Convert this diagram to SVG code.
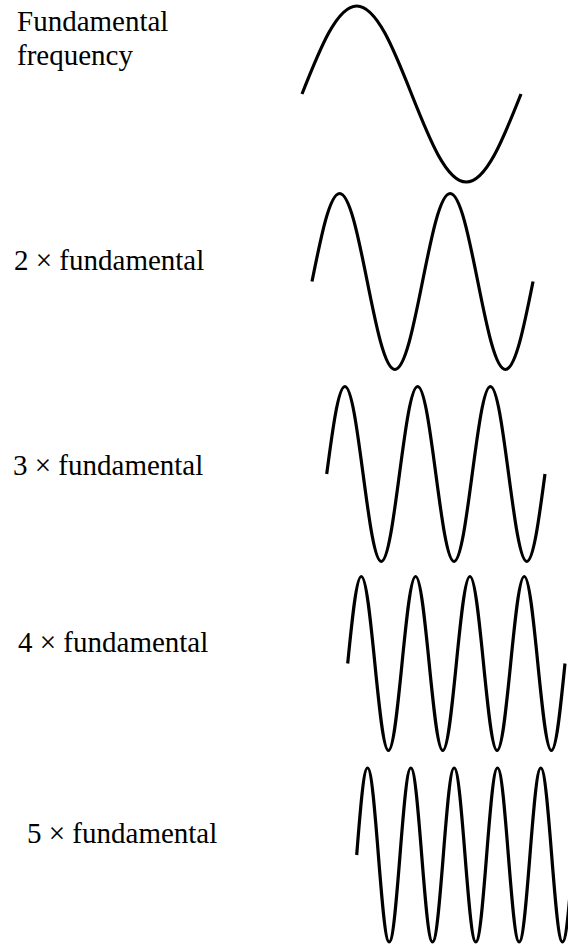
<svg xmlns="http://www.w3.org/2000/svg" width="568" height="948" viewBox="0 0 568 948">
<style>
.lbl{font-family:"Liberation Serif","Times New Roman",serif;font-size:29px;fill:#000}
.wave{fill:none;stroke:#000;stroke-width:3.2;stroke-linecap:butt;stroke-linejoin:round}
</style>
<rect width="568" height="948" fill="#fff"/>
<g id="row1">
<text class="lbl" x="17" y="31">Fundamental</text>
<text class="lbl" x="17" y="65">frequency</text>
<path class="wave" d="M302,94 c17.85,-45.08 34.94,-88 54.75,-88 s36.90,42.92 54.75,88 s34.94,88 54.75,88 s36.90,-42.92 54.75,-88"/>
</g>
<g id="row2">
<text class="lbl" x="14" y="270">2 &#215; fundamental</text>
<path class="wave" d="M312,281.5 c9.01,-45.08 17.63,-88 27.63,-88 s18.62,42.92 27.63,88 s17.63,88 27.63,88 s18.62,-42.92 27.63,-88 s17.63,-88 27.63,-88 s18.62,42.92 27.63,88 s17.63,88 27.63,88 s18.62,-42.92 27.63,-88"/>
</g>
<g id="row3">
<text class="lbl" x="13" y="475">3 &#215; fundamental</text>
<path class="wave" d="M326.7,474 c5.93,-44.83 11.61,-87.5 18.19,-87.5 s12.26,42.67 18.19,87.5 s11.61,87.5 18.19,87.5 s12.26,-42.67 18.19,-87.5 s11.61,-87.5 18.19,-87.5 s12.26,42.67 18.19,87.5 s11.61,87.5 18.19,87.5 s12.26,-42.67 18.19,-87.5 s11.61,-87.5 18.19,-87.5 s12.26,42.67 18.19,87.5 s11.61,87.5 18.19,87.5 s12.26,-42.67 18.19,-87.5"/>
</g>
<g id="row4">
<text class="lbl" x="18" y="652">4 &#215; fundamental</text>
<path class="wave" d="M347.7,663.5 c4.43,-44.57 8.67,-87 13.58,-87 s9.15,42.43 13.58,87 s8.67,87 13.58,87 s9.15,-42.43 13.58,-87 s8.67,-87 13.58,-87 s9.15,42.43 13.58,87 s8.67,87 13.58,87 s9.15,-42.43 13.58,-87 s8.67,-87 13.58,-87 s9.15,42.43 13.58,87 s8.67,87 13.58,87 s9.15,-42.43 13.58,-87 s8.67,-87 13.58,-87 s9.15,42.43 13.58,87 s8.67,87 13.58,87 s9.15,-42.43 13.58,-87"/>
</g>
<g id="row5">
<text class="lbl" x="27" y="843">5 &#215; fundamental</text>
<path class="wave" d="M356.7,855 c3.53,-44.57 6.91,-87 10.83,-87 s7.30,42.43 10.83,87 s6.91,87 10.83,87 s7.30,-42.43 10.83,-87 s6.91,-87 10.83,-87 s7.30,42.43 10.83,87 s6.91,87 10.83,87 s7.30,-42.43 10.83,-87 s6.91,-87 10.83,-87 s7.30,42.43 10.83,87 s6.91,87 10.83,87 s7.30,-42.43 10.83,-87 s6.91,-87 10.83,-87 s7.30,42.43 10.83,87 s6.91,87 10.83,87 s7.30,-42.43 10.83,-87 s6.91,-87 10.83,-87 s7.30,42.43 10.83,87 s6.91,87 10.83,87 s7.30,-42.43 10.83,-87"/>
</g>
</svg>
